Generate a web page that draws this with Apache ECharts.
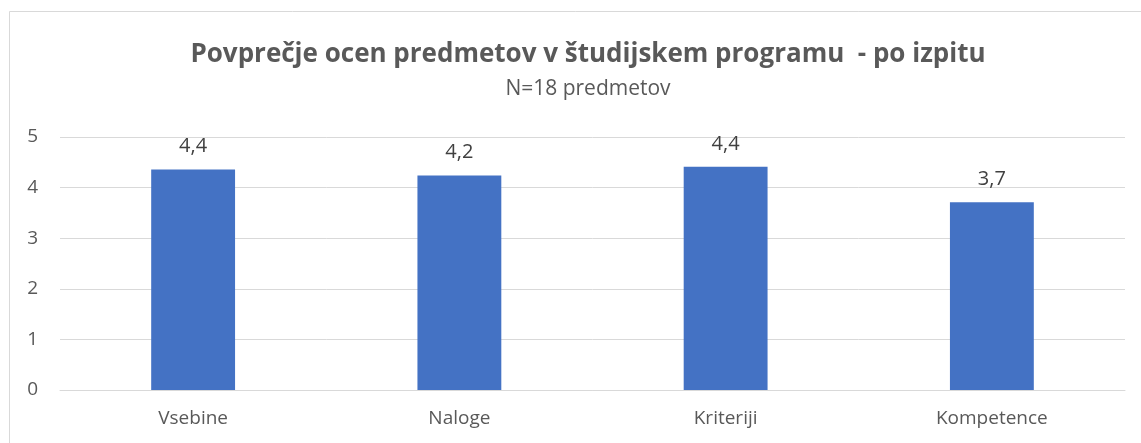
<!DOCTYPE html>
<html><head><meta charset="utf-8">
<script src="https://cdn.jsdelivr.net/npm/echarts@6/dist/echarts.min.js"></script>
<style>html,body{margin:0;padding:0;background:#fff}#c{width:1141px;height:443px}</style>
</head><body><div id="c"></div>
<script>
const categories = ["Vsebine", "Naloge", "Kriteriji", "Kompetence"];
const values = [4.36, 4.24, 4.41, 3.71];
const yTicks = [0, 1, 2, 3, 4, 5];
const titleText = "Povprečje ocen predmetov v študijskem programu  - po izpitu";
const subtitleText = "N=18 predmetov";

const chart = echarts.init(document.getElementById('c'), null, {renderer: 'canvas'});
const font = "'Open Sans', 'Noto Sans', sans-serif";
chart.setOption({
  animation: false,
  backgroundColor: '#fff',
  graphic: [{type: 'rect', shape: {x: 9.5, y: 11.5, width: 1200, height: 600}, style: {fill: 'none', stroke: '#d9d9d9', lineWidth: 1}, silent: true, z: -1}],
  title: {
    text: titleText, subtext: subtitleText, left: 583, textAlign: 'center', top: 37, itemGap: 11,
    textStyle: {fontFamily: font, fontSize: 26, fontWeight: 'bold', color: '#595959'},
    subtextStyle: {fontFamily: font, fontSize: 21, color: '#595959'}
  },
  grid: {left: 60, right: 16, top: 137, bottom: 53},
  xAxis: {
    type: 'category', data: categories,
    axisLine: {show: true, lineStyle: {color: '#d9d9d9'}}, axisTick: {show: false},
    axisLabel: {fontFamily: font, fontSize: 19, color: '#595959', margin: 19}
  },
  yAxis: {
    type: 'value', min: yTicks[0], max: yTicks[yTicks.length - 1], interval: 1,
    axisLine: {show: false}, axisTick: {show: false},
    splitLine: {lineStyle: {color: '#d9d9d9', width: 1}},
    axisLabel: {fontFamily: font, fontSize: 19, color: '#595959', margin: 22}
  },
  series: [{
    type: 'bar', data: values, barWidth: '31.5%',
    itemStyle: {color: '#4472c4'},
    label: {show: true, position: 'top', distance: 13, fontFamily: font, fontSize: 20, color: '#404040',
      formatter: p => p.value.toFixed(1).replace('.', ',')}
  }]
});
</script></body></html>
